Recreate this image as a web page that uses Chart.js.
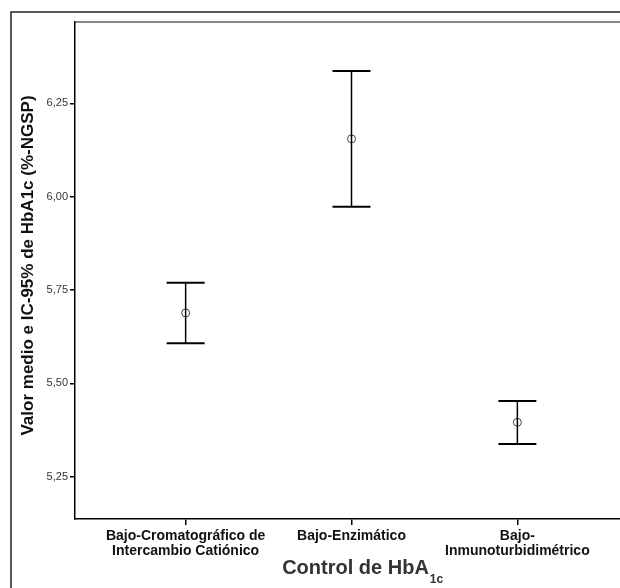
<!DOCTYPE html>
<html>
<head>
<meta charset="utf-8">
<script src="https://cdn.jsdelivr.net/npm/chart.js@4"></script>
<style>
  html, body { margin: 0; padding: 0; background: #fff; overflow: hidden; }
  #wrap { width: 620px; height: 588px; overflow: hidden; position: relative; }
  canvas { position: absolute; left: 0; top: 0; }
</style>
</head>
<body>
<div id="wrap"><canvas id="grafico" width="640" height="588"></canvas></div>
<script>
// datos
const categorias = [
  ['Bajo-Cromatográfico de', 'Intercambio Catiónico'],
  ['Bajo-Enzimático'],
  ['Bajo-', 'Inmunoturbidimétrico']
];
const medias = [5.689, 6.155, 5.396];
const limInf = [5.608, 5.973, 5.338];
const limSup = [5.770, 6.337, 5.453];
const marcasY = [5.25, 5.50, 5.75, 6.00, 6.25];

const tituloY = 'Valor medio e IC-95% de HbA1c (%-NGSP)';
const tituloX = 'Control de HbA';
const subX = '1c';

const fuente = '"Liberation Sans", Arial, sans-serif';

// barras de error + marcos + titulos
const barrasError = {
  id: 'barrasError',
  beforeDraw(chart) {
    const ctx = chart.ctx;
    const a = chart.chartArea;
    ctx.save();
    ctx.strokeStyle = '#222';
    ctx.lineWidth = 1.5;
    ctx.strokeRect(11, 12, 700, 700);
    ctx.strokeStyle = '#888';
    ctx.lineWidth = 2;
    ctx.beginPath();
    ctx.moveTo(a.left, a.top);
    ctx.lineTo(700, a.top);
    ctx.stroke();
    ctx.restore();
  },
  afterDatasetsDraw(chart) {
    const ctx = chart.ctx;
    const x = chart.scales.x, y = chart.scales.y;
    ctx.save();
    ctx.strokeStyle = '#000';
    medias.forEach((m, i) => {
      const px = x.getPixelForValue(i);
      const y1 = y.getPixelForValue(limSup[i]);
      const y2 = y.getPixelForValue(limInf[i]);
      ctx.lineWidth = 1.5;
      ctx.beginPath();
      ctx.moveTo(px, y1);
      ctx.lineTo(px, y2);
      ctx.stroke();
      ctx.lineWidth = 2;
      ctx.beginPath();
      ctx.moveTo(px - 19, y1);
      ctx.lineTo(px + 19, y1);
      ctx.moveTo(px - 19, y2);
      ctx.lineTo(px + 19, y2);
      ctx.stroke();
    });
    ctx.restore();
  },
  afterDraw(chart) {
    const ctx = chart.ctx;
    const a = chart.chartArea;
    ctx.save();
    // titulo eje Y
    ctx.fillStyle = '#111';
    ctx.font = 'bold 17px ' + fuente;
    ctx.textAlign = 'center';
    ctx.textBaseline = 'middle';
    ctx.translate(28, (a.top + a.bottom) / 2 - 5);
    ctx.rotate(-Math.PI / 2);
    ctx.fillText(tituloY, 0, 0);
    ctx.restore();

    // titulo eje X con subindice
    ctx.save();
    ctx.fillStyle = '#333';
    ctx.font = 'bold 20px ' + fuente;
    ctx.textBaseline = 'alphabetic';
    ctx.textAlign = 'left';
    const w1 = ctx.measureText(tituloX).width;
    const cx = (a.left + a.right) / 2;
    const x0 = cx - w1 / 2 + 4;
    ctx.fillText(tituloX, x0, 574);
    ctx.font = 'bold 12px ' + fuente;
    ctx.fillText(subX, x0 + w1 + 1, 583);
    ctx.restore();
  }
};

new Chart(document.getElementById('grafico'), {
  type: 'scatter',
  data: {
    datasets: [{
      data: medias.map((m, i) => ({ x: i, y: m })),
      pointStyle: 'circle',
      pointRadius: 4,
      pointBorderWidth: 1,
      pointBorderColor: '#444',
      pointBackgroundColor: 'rgba(0,0,0,0)',
      showLine: false
    }]
  },
  options: {
    responsive: false,
    animation: false,
    layout: { padding: { top: 22, right: 12, left: 0, bottom: 0 } },
    plugins: {
      legend: { display: false },
      tooltip: { enabled: false }
    },
    scales: {
      x: {
        type: 'linear',
        min: -0.667,
        max: 2.667,
        afterBuildTicks: (s) => { s.ticks = categorias.map((c, i) => ({ value: i })); },
        afterFit: (s) => { s.height = 69; },
        grid: { drawOnChartArea: false, drawTicks: true, tickLength: 6, color: '#000', lineWidth: 1.5 },
        border: { color: '#000', width: 1.5 },
        ticks: {
          autoSkip: false,
          maxRotation: 0,
          padding: 3,
          color: '#111',
          font: { family: fuente, weight: 'bold', size: 14, lineHeight: 1.12 },
          callback: (v) => categorias[v]
        }
      },
      y: {
        min: 5.137,
        max: 6.468,
        afterBuildTicks: (s) => { s.ticks = marcasY.map(v => ({ value: v })); },
        afterFit: (s) => { s.width = 75; },
        grid: { drawOnChartArea: false, drawTicks: true, tickLength: 5, color: '#000', lineWidth: 1.5 },
        border: { color: '#000', width: 1.5 },
        ticks: {
          padding: 2,
          color: '#333',
          font: { family: fuente, size: 11 },
          callback: (v) => v.toFixed(2).replace('.', ',')
        }
      }
    }
  },
  plugins: [barrasError]
});
</script>
</body>
</html>
